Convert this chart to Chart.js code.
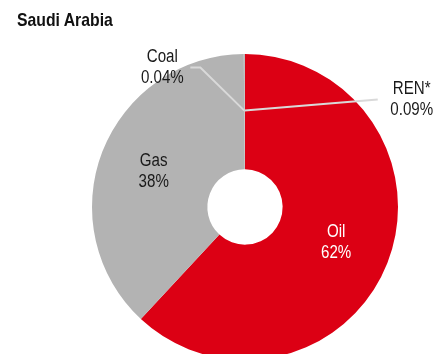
<!DOCTYPE html>
<html>
<head>
<meta charset="utf-8">
<script src="https://cdn.jsdelivr.net/npm/chart.js@4"></script>
<style>
  html, body { margin: 0; padding: 0; background: #fff; overflow: hidden; }
  #wrap { position: relative; width: 444px; height: 414px; }
  #title { position: absolute; left: 17px; top: 9px; font: bold 19px "Liberation Sans", Arial, sans-serif; color: #111; z-index: 2; transform: scaleX(0.83); transform-origin: left top; white-space: nowrap; }
</style>
</head>
<body>
<div id="wrap">
  <div id="title">Saudi Arabia</div>
  <canvas id="c"></canvas>
</div>
<script>
// Primary energy mix shares (%)
const categories = ['Oil', 'Gas', 'Coal', 'REN*'];
const shares = [62, 38, 0.04, 0.09];
const shareLabels = ['62%', '38%', '0.04%', '0.09%'];
const colours = ['#dc0014', '#b3b3b3', '#b3b3b3', '#b3b3b3'];

const FONT = '18px "Liberation Sans", Arial, sans-serif';
const NARROW = 0.84; // horizontal squeeze for a condensed face

function narrowText(ctx, text, x, y) {
  ctx.save();
  ctx.translate(x, y);
  ctx.scale(NARROW, 1);
  ctx.fillText(text, 0, 0);
  ctx.restore();
}

// Inside labels for the big slices, leader-line callouts for the tiny ones
const sliceLabels = {
  id: 'sliceLabels',
  afterDatasetsDraw(chart) {
    const ctx = chart.ctx;
    const arcs = chart.getDatasetMeta(0).data;
    ctx.save();
    ctx.font = FONT;
    ctx.textAlign = 'center';
    ctx.textBaseline = 'middle';
    arcs.forEach((arc, i) => {
      const mid = (arc.startAngle + arc.endAngle) / 2;
      const r = arc.outerRadius;
      if (shares[i] >= 1) {
        const x = arc.x + Math.cos(mid) * r * 0.64;
        const y = arc.y + Math.sin(mid) * r * 0.64;
        ctx.fillStyle = i === 0 ? '#ffffff' : '#1a1a1a';
        narrowText(ctx, categories[i], x, y - 10.5);
        narrowText(ctx, shareLabels[i], x, y + 10.5);
      } else {
        const ax = arc.x + Math.cos(mid) * r * 0.63;
        const ay = arc.y + Math.sin(mid) * r * 0.63;
        ctx.strokeStyle = '#d9d9d9';
        ctx.lineWidth = 2;
        ctx.beginPath();
        ctx.moveTo(ax, ay);
        let lx, ly;
        if (categories[i] === 'Coal') {
          ctx.lineTo(ax - 44, ay - 43);
          ctx.lineTo(ax - 54, ay - 43);
          lx = ax - 82; ly = ay - 43;
        } else {
          ctx.lineTo(ax + 133, ay - 11);
          lx = ax + 167; ly = ay - 11;
        }
        ctx.stroke();
        ctx.fillStyle = '#1a1a1a';
        narrowText(ctx, categories[i], lx, ly - 11);
        narrowText(ctx, shareLabels[i], lx, ly + 10);
      }
    });
    ctx.restore();
  }
};

new Chart(document.getElementById('c'), {
  type: 'doughnut',
  data: {
    labels: categories,
    datasets: [{
      data: shares,
      backgroundColor: colours,
      borderWidth: 0
    }]
  },
  options: {
    responsive: true,
    maintainAspectRatio: false,
    animation: false,
    cutout: '24.6%',
    layout: { padding: { top: 54, bottom: 54, left: 46, right: 0 } },
    plugins: {
      legend: { display: false },
      tooltip: { enabled: false }
    }
  },
  plugins: [sliceLabels]
});
</script>
</body>
</html>
